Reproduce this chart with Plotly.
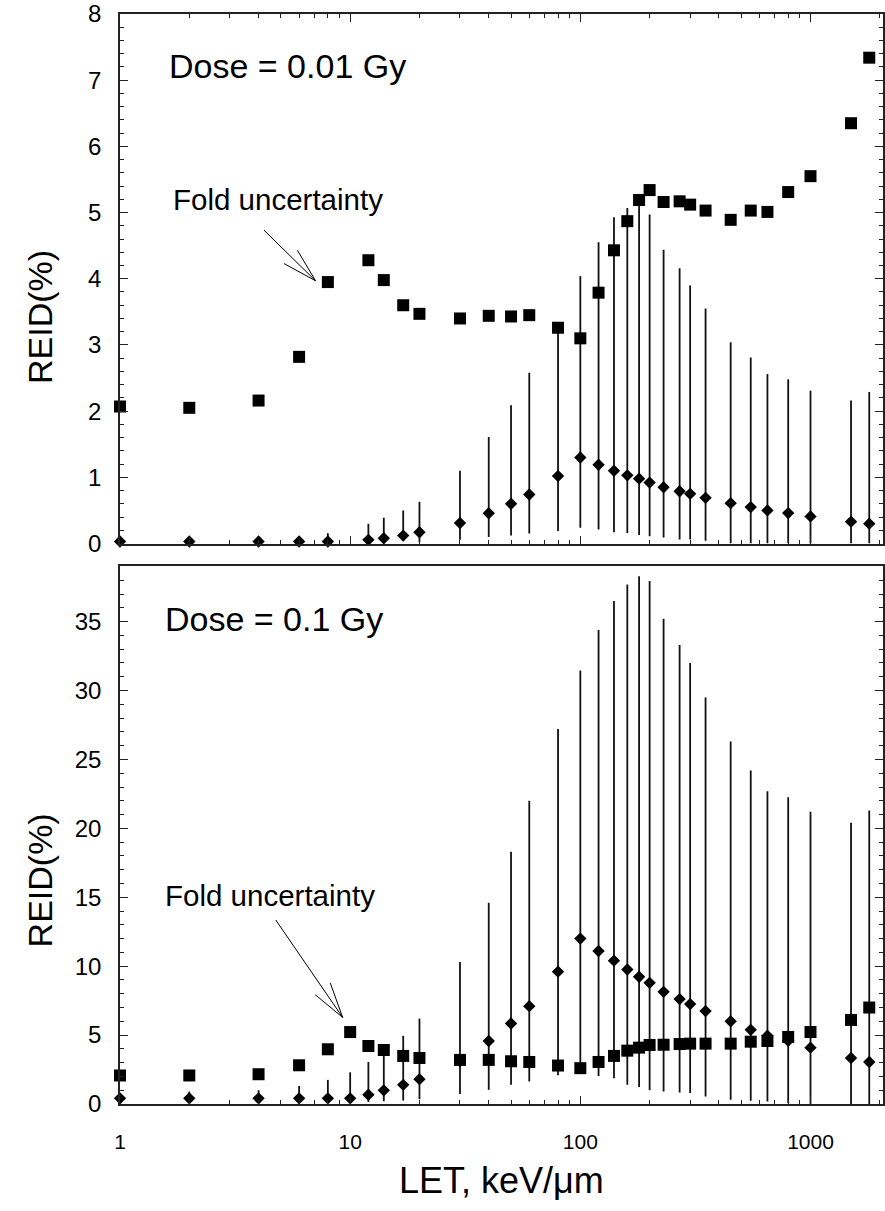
import numpy as np
import plotly.graph_objects as go

# ---------------- data ----------------
# Dose = 0.01 Gy (top panel)
let_top = [1, 2, 4, 6, 8, 12, 14, 17, 20, 30, 40, 50, 60, 80, 100, 120, 140, 160,
           180, 200, 230, 270, 300, 350, 450, 550, 650, 800, 1000, 1500, 1800]
sq_top = [2.07, 2.05, 2.16, 2.82, 3.95, 4.28, 3.98, 3.60, 3.47, 3.40, 3.44, 3.43, 3.45,
          3.26, 3.10, 3.79, 4.43, 4.87, 5.19, 5.34, 5.16, 5.17, 5.12, 5.03, 4.89, 5.03,
          5.01, 5.31, 5.55, 6.35, 7.34]
dia_top = [0.03, 0.03, 0.03, 0.03, 0.03, 0.056, 0.08, 0.12, 0.17, 0.31, 0.457, 0.60,
           0.74, 1.02, 1.30, 1.19, 1.10, 1.03, 0.98, 0.92, 0.85, 0.79, 0.75, 0.69, 0.61,
           0.55, 0.50, 0.46, 0.41, 0.33, 0.30]
dia_top_hi = [0.03, 0.03, 0.03, 0.03, 0.155, 0.30, 0.39, 0.50, 0.63, 1.10, 1.61, 2.09,
              2.58, 3.25, 4.04, 4.55, 4.93, 5.07, 5.25, 4.97, 4.44, 4.16, 3.90, 3.55,
              3.04, 2.81, 2.56, 2.48, 2.31, 2.16, 2.29]
dia_top_lo = [0.03, 0.03, 0.03, 0.03, 0.0, 0.0, 0.0, 0.045, 0.02, 0.056, 0.10, 0.12,
              0.15, 0.19, 0.24, 0.21, 0.17, 0.16, 0.13, 0.11, 0.09, 0.06, 0.06, 0.04,
              0.0, 0.0, 0.0, 0.0, 0.0, 0.0, 0.0]

# Dose = 0.1 Gy (bottom panel)
let_bot = [1, 2, 4, 6, 8, 10, 12, 14, 17, 20, 30, 40, 50, 60, 80, 100, 120, 140, 160,
           180, 200, 230, 270, 300, 350, 450, 550, 650, 800, 1000, 1500, 1800]
sq_bot = [2.07, 2.07, 2.16, 2.81, 3.97, 5.22, 4.21, 3.92, 3.49, 3.34, 3.20, 3.20, 3.10,
          3.05, 2.79, 2.60, 3.05, 3.49, 3.87, 4.09, 4.28, 4.30, 4.35, 4.38, 4.38, 4.38,
          4.52, 4.57, 4.86, 5.22, 6.10, 7.00]
dia_bot = [0.41, 0.41, 0.41, 0.41, 0.41, 0.41, 0.67, 0.99, 1.39, 1.80, 3.10, 4.57, 5.84,
           7.10, 9.60, 12.0, 11.1, 10.4, 9.76, 9.23, 8.79, 8.14, 7.61, 7.25, 6.74, 6.00,
           5.38, 4.95, 4.59, 4.09, 3.34, 3.05]
dia_bot_hi = [0.80, 0.90, 1.00, 1.30, 1.75, 2.30, 3.05, 3.70, 4.95, 6.20, 10.3, 14.6,
              18.3, 22.0, 27.2, 31.45, 34.4, 36.5, 37.7, 38.3, 37.95, 35.2, 33.3, 32.0,
              29.5, 26.3, 24.2, 22.7, 22.25, 21.2, 20.4, 21.3]
dia_bot_lo = [0.05, 0.05, 0.05, 0.05, 0.10, 0.10, 0.15, 0.20, 0.25, 0.35, 0.72, 1.03,
              1.39, 1.63, 2.09, 2.19, 2.04, 1.87, 1.39, 1.23, 0.99, 0.91, 0.84, 0.79,
              0.55, 0.31, 0.24, 0.19, 0.07, 0.0, 0.0, 0.0]

major_ticks = [1, 10, 100, 1000]
major_labels = ["1", "10", "100", "1000"]
minor_ticks = [m * d for d in (1, 10, 100, 1000) for m in range(2, 10) if m * d <= 2000]

# ---------------- figure ----------------
BLACK = "#000000"
AX = "#222222"
FONT = "Liberation Sans, Arial, sans-serif"

fig = go.Figure()


def add_panel(xs, sq, dia, hi, lo, xa, ya):
    plus = [h - d for h, d in zip(hi, dia)]
    minus = [d - l for d, l in zip(dia, lo)]
    fig.add_trace(go.Scatter(
        x=xs, y=dia, mode="markers", xaxis=xa, yaxis=ya, cliponaxis=False,
        marker=dict(symbol="diamond", size=9.5, color=BLACK),
        error_y=dict(type="data", symmetric=False, array=plus, arrayminus=minus,
                     width=0, thickness=1.8, color="#111111"),
        showlegend=False, hoverinfo="x+y"))
    fig.add_trace(go.Scatter(
        x=xs, y=sq, mode="markers", xaxis=xa, yaxis=ya, cliponaxis=False,
        marker=dict(symbol="square", size=12, color=BLACK),
        showlegend=False, hoverinfo="x+y"))


add_panel(let_top, sq_top, dia_top, dia_top_hi, dia_top_lo, "x2", "y2")
add_panel(let_bot, sq_bot, dia_bot, dia_bot_hi, dia_bot_lo, "x", "y")

W, H = 885, 1211
ML, MR, MT, MB = 120, 0, 13, 107
plot_h = H - MT - MB
top_dom = [(1104 - 543) / plot_h, 1.0]
bot_dom = [0.0, (1104 - 566) / plot_h]

xcommon = dict(type="log", range=[0, 3.315], showgrid=False, zeroline=False,
               showline=True, linecolor=AX, linewidth=1.5,
               ticks="inside", ticklen=8, tickwidth=1.2, tickcolor=AX,
               tickvals=major_ticks,
               minor=dict(tickvals=minor_ticks, ticks="inside", ticklen=4,
                          tickwidth=1, tickcolor=AX, showgrid=False))
ycommon = dict(showgrid=False, zeroline=False, showline=True, linecolor=AX,
               linewidth=1.5, mirror="ticks", ticks="inside", ticklen=8,
               tickwidth=1.2, tickcolor=AX, tick0=0,
               tickfont=dict(size=24, family=FONT, color=BLACK),
               ticklabelstandoff=12, ticklabeloverflow="allow")

fig.update_layout(
    width=W, height=H,
    margin=dict(l=ML, r=MR, t=MT, b=MB),
    paper_bgcolor="white", plot_bgcolor="white",
    font=dict(family=FONT, color=BLACK),
    xaxis=dict(**xcommon, domain=[0, 1], anchor="y", mirror=True,
               showticklabels=True, ticktext=major_labels,
               tickfont=dict(size=21, family=FONT, color=BLACK),
               ticklabelstandoff=18),
    xaxis2=dict(**xcommon, domain=[0, 1], anchor="y2", mirror="ticks",
                showticklabels=False, matches="x"),
    yaxis=dict(**ycommon, domain=bot_dom, anchor="x", range=[0, 39], dtick=5,
               minor=dict(dtick=1, ticks="inside", ticklen=4, tickwidth=1,
                          tickcolor=AX, showgrid=False)),
    yaxis2=dict(**ycommon, domain=top_dom, anchor="x2", range=[0, 8], dtick=1,
                minor=dict(dtick=0.2, ticks="inside", ticklen=4, tickwidth=1,
                           tickcolor=AX, showgrid=False)),
)

ann = []
# axis titles
ann.append(dict(text="LET, keV/μm", xref="paper", yref="paper",
                x=(503 - ML) / 765, y=(1104 - 1181) / plot_h,
                xanchor="center", yanchor="middle", showarrow=False,
                font=dict(size=36, family=FONT, color=BLACK)))
ann.append(dict(text="REID(%)", xref="paper", yref="paper", textangle=-90,
                x=(40 - ML) / 765, y=(1104 - 316) / plot_h,
                xanchor="center", yanchor="middle", showarrow=False,
                font=dict(size=34, family=FONT, color=BLACK)))
ann.append(dict(text="REID(%)", xref="paper", yref="paper", textangle=-90,
                x=(40 - ML) / 765, y=(1104 - 880) / plot_h,
                xanchor="center", yanchor="middle", showarrow=False,
                font=dict(size=34, family=FONT, color=BLACK)))
# panel labels
ann.append(dict(text="Dose = 0.01 Gy", xref="x2 domain", yref="y2 domain",
                x=(167 - ML) / 765, y=(543 - 65) / 530,
                xanchor="left", yanchor="middle", showarrow=False,
                font=dict(size=34, family=FONT, color=BLACK)))
ann.append(dict(text="Dose = 0.1 Gy", xref="x domain", yref="y domain",
                x=(163 - ML) / 765, y=(1104 - 619) / 538,
                xanchor="left", yanchor="middle", showarrow=False,
                font=dict(size=34, family=FONT, color=BLACK)))
ann.append(dict(text="Fold uncertainty", xref="x2 domain", yref="y2 domain",
                x=(171 - ML) / 765, y=(543 - 199) / 530,
                xanchor="left", yanchor="middle", showarrow=False,
                font=dict(size=29.5, family=FONT, color=BLACK)))
ann.append(dict(text="Fold uncertainty", xref="x domain", yref="y domain",
                x=(163 - ML) / 765, y=(1104 - 895) / 538,
                xanchor="left", yanchor="middle", showarrow=False,
                font=dict(size=29.5, family=FONT, color=BLACK)))

# arrows (open V head made from three lines meeting at the tip)
top_tip = dict(xref="x2", yref="y2", x=np.log10(7.07), y=3.97)
for ax_, ay_ in [(-53, -52), (-33, -18), (-19, -32)]:
    ann.append(dict(text="", showarrow=True, arrowhead=0, arrowwidth=1,
                    arrowcolor=BLACK, standoff=0, ax=ax_, ay=ay_, **top_tip))
bot_tip = dict(xref="x", yref="y", x=np.log10(9.28), y=6.28)
for ax_, ay_ in [(-68, -99), (-29, -24), (-13, -36)]:
    ann.append(dict(text="", showarrow=True, arrowhead=0, arrowwidth=1,
                    arrowcolor=BLACK, standoff=0, ax=ax_, ay=ay_, **bot_tip))

fig.update_layout(annotations=ann)
fig.write_html("out.html",
               config={"displayModeBar": False},
               post_script="document.body.style.margin='0';"
                           "document.body.style.overflow='hidden';")
